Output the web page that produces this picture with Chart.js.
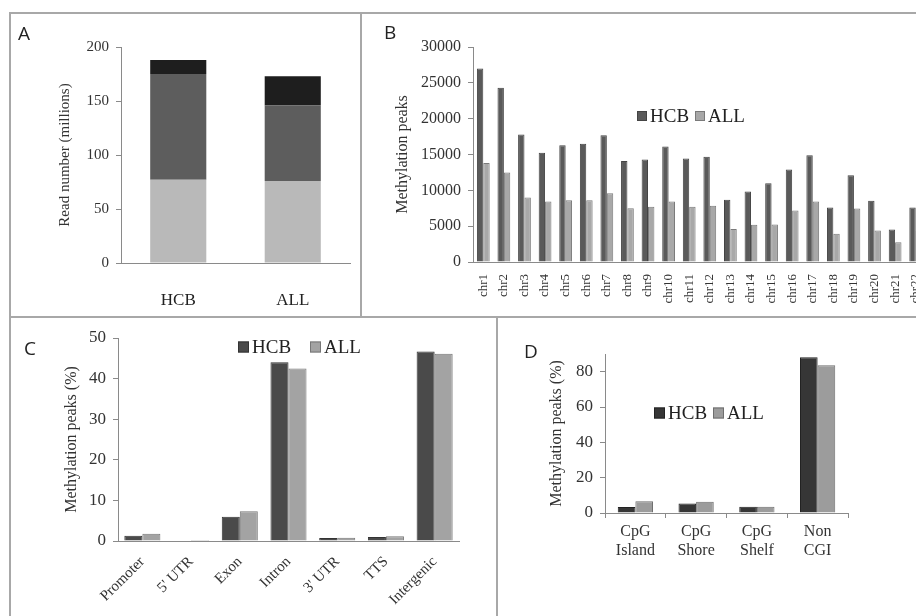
<!DOCTYPE html>
<html>
<head>
<meta charset="utf-8">
<script src="https://cdn.jsdelivr.net/npm/chart.js@4/dist/chart.umd.min.js"></script>
<style>
  body { margin: 0; background: #fff; }
  #fig { position: relative; width: 916px; height: 616px; overflow: hidden; background: #fff; }
  .ln { position: absolute; background: #a8a8a8; }
  .tag { position: absolute; font-family: "Open Sans", sans-serif; font-size: 19px; color: #222; line-height: 1; }
  canvas { position: absolute; }
</style>
</head>
<body>
<div id="fig">
  <div class="ln" style="left:9px;top:12px;width:907px;height:2px"></div>
  <div class="ln" style="left:9px;top:12px;width:2px;height:604px"></div>
  <div class="ln" style="left:360px;top:12px;width:2px;height:305px"></div>
  <div class="ln" style="left:9px;top:316px;width:907px;height:2px"></div>
  <div class="ln" style="left:496px;top:316px;width:2px;height:300px"></div>

  <canvas id="chartA" width="346" height="300" style="left:12px;top:15px"></canvas>
  <canvas id="chartB" width="600" height="300" style="left:363px;top:15px"></canvas>
  <canvas id="chartC" width="484" height="296" style="left:12px;top:319px"></canvas>
  <canvas id="chartD" width="416" height="296" style="left:499px;top:319px"></canvas>

  <div class="tag" style="left:18px;top:24px">A</div>
  <div class="tag" style="left:384px;top:23px">B</div>
  <div class="tag" style="left:24px;top:339px">C</div>
  <div class="tag" style="left:524px;top:342px">D</div>
</div>
<script>
// panel A - read numbers (millions), stacked
var readCats = ['HCB', 'ALL'];
var readLow = [77, 76];
var readMid = [98, 70];
var readTop = [13, 27];

// panel B - peaks per chromosome
var chrLabels = ['chr1', 'chr2', 'chr3', 'chr4', 'chr5', 'chr6', 'chr7', 'chr8', 'chr9', 'chr10', 'chr11',
    'chr12', 'chr13', 'chr14', 'chr15', 'chr16', 'chr17', 'chr18', 'chr19', 'chr20', 'chr21', 'chr22'];
var hcbChr = [27000, 24300, 17800, 15250, 16300, 16500, 17700, 14100, 14300, 16100, 14450,
    14700, 8700, 9850, 11000, 12900, 14900, 7600, 12100, 8550, 4550, 7600];
var allChr = [13800, 12500, 9000, 8450, 8600, 8600, 9600, 7500, 7700, 8450, 7700,
    7850, 4600, 5200, 5250, 7200, 8450, 3950, 7450, 4400, 2750, 4350];

// panel C - genomic features (%)
var featLabels = ['Promoter', "5' UTR", 'Exon', 'Intron', "3' UTR", 'TTS', 'Intergenic'];
var hcbFeat = [1.3, 0.1, 6.0, 44.0, 0.75, 1.0, 46.7];
var allFeat = [1.8, 0.25, 7.3, 42.5, 0.8, 1.2, 46.1];

// panel D - CpG context (%)
var cgiLabels = [['CpG', 'Island'], ['CpG', 'Shore'], ['CpG', 'Shelf'], ['Non', 'CGI']];
var hcbCgi = [3.4, 5.4, 3.6, 88.2];
var allCgi = [6.7, 6.4, 3.6, 83.7];
var cgiTicks = [0, 20, 40, 60, 80];

Chart.defaults.font.family = '"Liberation Serif", serif';
Chart.defaults.color = '#333';
Chart.defaults.animation = false;

var axisGrey = '#8a8a8a';

// small legend drawn inside the plot, like the excel one
var boxLegend = {
    id: 'boxLegend',
    afterDraw: function (chart, args, o) {
        if (!o || !o.xs) return;
        var ctx = chart.ctx;
        ctx.save();
        ctx.font = o.size + 'px "Liberation Serif", serif';
        ctx.textBaseline = 'middle';
        chart.data.datasets.forEach(function (ds, i) {
            var x = o.xs[i];
            ctx.fillStyle = ds.backgroundColor;
            ctx.fillRect(x, o.y - o.box / 2, o.box, o.box);
            ctx.strokeStyle = ds.borderColor;
            ctx.lineWidth = 1;
            ctx.strokeRect(x + 0.5, o.y - o.box / 2 + 0.5, o.box - 1, o.box - 1);
            ctx.fillStyle = '#222';
            ctx.fillText(ds.label, x + o.box + 3, o.y + 1);
        });
        ctx.restore();
    }
};

function yAxis(cfg) {
    return {
        min: 0,
        max: cfg.max,
        afterFit: function (s) { s.width = cfg.width; },
        afterBuildTicks: function (s) {
            if (cfg.list) {
                s.ticks = cfg.list.map(function (v) { return { value: v }; });
            }
        },
        ticks: {
            stepSize: cfg.step, padding: 7, font: { size: cfg.tick }, color: '#333',
            callback: function (v) { return String(v); }
        },
        grid: { drawOnChartArea: false, drawTicks: true, tickLength: 5, color: axisGrey },
        border: { color: axisGrey, width: 1 },
        title: {
            display: true, text: cfg.title, color: '#333',
            font: { size: cfg.titleSize }, padding: { top: cfg.titlePad, bottom: 0 }
        }
    };
}

// A
new Chart(document.getElementById('chartA'), {
    type: 'bar',
    data: {
        labels: readCats,
        datasets: [
            { label: 'low', data: readLow, backgroundColor: '#b9b9b9' },
            { label: 'mid', data: readMid, backgroundColor: '#5d5d5d' },
            { label: 'top', data: readTop, backgroundColor: '#1e1e1e' }
        ]
    },
    options: {
        responsive: false,
        layout: { padding: { top: 32, right: 8, bottom: 0, left: 0 } },
        plugins: { legend: { display: false }, tooltip: { enabled: false } },
        datasets: { bar: { categoryPercentage: 1, barPercentage: 0.49 } },
        scales: {
            x: {
                stacked: true,
                afterFit: function (s) { s.height = 52; },
                grid: { display: false },
                border: { color: axisGrey },
                ticks: { padding: 19, font: { size: 17 }, color: '#222' }
            },
            y: Object.assign(yAxis({ max: 200, step: 50, width: 109, tick: 15, title: 'Read number (millions)', titleSize: 15, titlePad: 44 }), { stacked: true })
        }
    }
});

// B
new Chart(document.getElementById('chartB'), {
    type: 'bar',
    data: {
        labels: chrLabels,
        datasets: [
            { label: 'HCB', data: hcbChr, backgroundColor: '#5a5a5a', borderColor: '#444', borderWidth: 1 },
            { label: 'ALL', data: allChr, backgroundColor: '#a8a8a8', borderColor: '#7a7a7a', borderWidth: 1 }
        ]
    },
    options: {
        responsive: false,
        layout: { padding: { top: 32, right: 37, bottom: 0, left: 0 } },
        plugins: {
            legend: { display: false }, tooltip: { enabled: false },
            boxLegend: { xs: [274, 332], y: 101, box: 10, size: 19 }
        },
        datasets: { bar: { categoryPercentage: 0.62, barPercentage: 1 } },
        scales: {
            x: {
                afterFit: function (s) { s.height = 53; },
                grid: { display: false },
                border: { color: axisGrey },
                ticks: { autoSkip: false, minRotation: 90, maxRotation: 90, padding: 4, font: { size: 13 }, color: '#333' }
            },
            y: yAxis({ max: 30000, step: 5000, width: 110, tick: 16, title: 'Methylation peaks', titleSize: 16, titlePad: 30 })
        }
    },
    plugins: [boxLegend]
});

// C
new Chart(document.getElementById('chartC'), {
    type: 'bar',
    data: {
        labels: featLabels,
        datasets: [
            { label: 'HCB', data: hcbFeat, backgroundColor: '#4a4a4a', borderColor: '#333', borderWidth: 1 },
            { label: 'ALL', data: allFeat, backgroundColor: '#a3a3a3', borderColor: '#777', borderWidth: 1 }
        ]
    },
    options: {
        responsive: false,
        layout: { padding: { top: 19, right: 37, bottom: 0, left: 0 } },
        plugins: {
            legend: { display: false }, tooltip: { enabled: false },
            boxLegend: { xs: [226, 298], y: 28, box: 11, size: 19 }
        },
        datasets: { bar: { categoryPercentage: 0.74, barPercentage: 1 } },
        scales: {
            x: {
                afterFit: function (s) { s.height = 74; },
                grid: { display: false },
                border: { color: axisGrey },
                ticks: { autoSkip: false, minRotation: 45, maxRotation: 45, padding: 4, font: { size: 15 }, color: '#333' }
            },
            y: yAxis({ max: 50, step: 10, width: 106, tick: 17, title: 'Methylation peaks (%)', titleSize: 16, titlePad: 50 })
        }
    },
    plugins: [boxLegend]
});

// D
new Chart(document.getElementById('chartD'), {
    type: 'bar',
    data: {
        labels: cgiLabels,
        datasets: [
            { label: 'HCB', data: hcbCgi, backgroundColor: '#363636', borderColor: '#222', borderWidth: 1 },
            { label: 'ALL', data: allCgi, backgroundColor: '#9c9c9c', borderColor: '#6e6e6e', borderWidth: 1 }
        ]
    },
    options: {
        responsive: false,
        layout: { padding: { top: 35, right: 67, bottom: 0, left: 0 } },
        plugins: {
            legend: { display: false }, tooltip: { enabled: false },
            boxLegend: { xs: [155, 214], y: 94, box: 11, size: 19 }
        },
        datasets: { bar: { categoryPercentage: 0.58, barPercentage: 1 } },
        scales: {
            x: {
                afterFit: function (s) { s.height = 102; },
                grid: { drawOnChartArea: false, drawTicks: true, tickLength: 5, color: axisGrey },
                border: { color: axisGrey },
                ticks: { autoSkip: false, maxRotation: 0, padding: 4, font: { size: 16 }, color: '#333' }
            },
            y: yAxis({ max: 90, step: 20, list: cgiTicks, width: 106, tick: 17, title: 'Methylation peaks (%)', titleSize: 16, titlePad: 48 })
        }
    },
    plugins: [boxLegend]
});
</script>
</body>
</html>
